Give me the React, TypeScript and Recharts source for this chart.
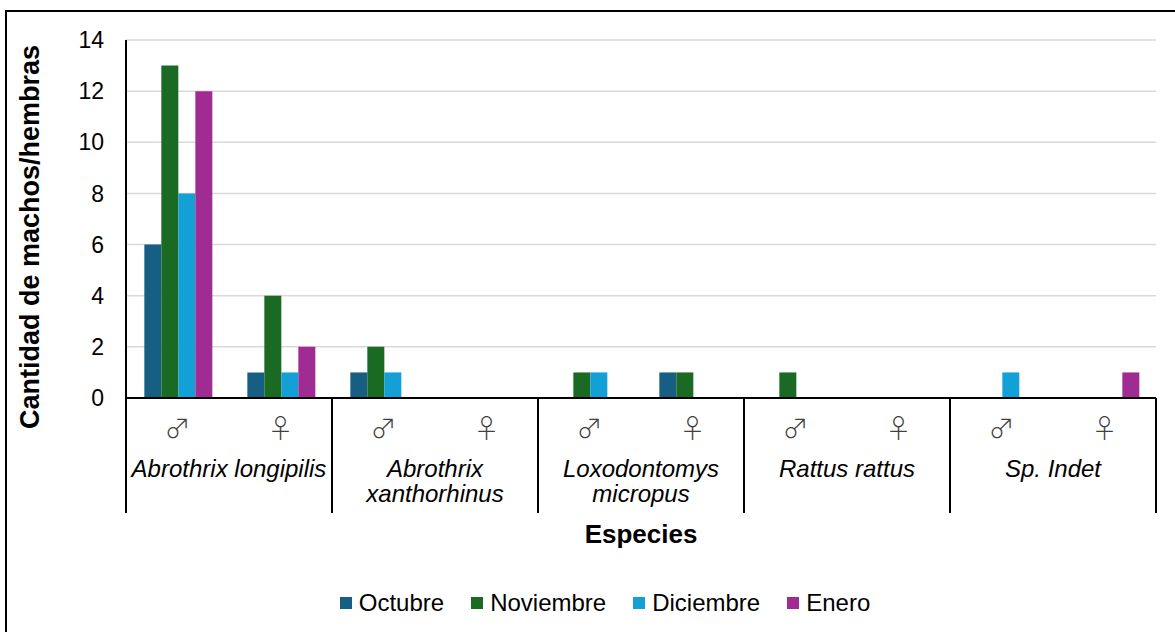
import { Bar, BarChart, CartesianGrid, Label, Legend, XAxis, YAxis } from "recharts";

const species = [
  ["Abrothrix longipilis"],
  ["Abrothrix", "xanthorhinus"],
  ["Loxodontomys", "micropus"],
  ["Rattus rattus"],
  ["Sp. Indet"],
];
const sexes = ["♂", "♀"];

// one value per bar position: species x sex (♂, ♀)
const octubre = [6, 1, 1, 0, 0, 1, 0, 0, 0, 0];
const noviembre = [13, 4, 2, 0, 1, 1, 1, 0, 0, 0];
const diciembre = [8, 1, 1, 0, 1, 0, 0, 0, 1, 0];
const enero = [12, 2, 0, 0, 0, 0, 0, 0, 0, 1];

const yTicks = [0, 2, 4, 6, 8, 10, 12, 14];

const series = [
  { key: "Octubre", values: octubre, color: "#175F82" },
  { key: "Noviembre", values: noviembre, color: "#1B6A24" },
  { key: "Diciembre", values: diciembre, color: "#12A0D7" },
  { key: "Enero", values: enero, color: "#A02C93" },
];

const data = species.flatMap((sp, i) =>
  sexes.map((sex, j) => {
    const idx = i * sexes.length + j;
    const row: Record<string, string | number> = { cat: `${sp.join(" ")} ${sex}` };
    series.forEach((s) => (row[s.key] = s.values[idx]));
    return row;
  })
);

const W = 1175;
const H = 632;
const font = "'Liberation Sans', Arial, sans-serif";
const margin = { top: 40, right: 19, left: 66, bottom: 14 };
const yAxisWidth = 60;
const legendHeight = 30;
const xAxisHeight = 190;
const bandWidth = (W - margin.left - margin.right - yAxisWidth) / data.length;

function CategoryTick(props: any) {
  const { x, y, index } = props;
  const sex = sexes[index % sexes.length];
  const groupStart = index % sexes.length === 0;
  const sp = species[Math.floor(index / sexes.length)];
  const isLast = index === data.length - 1;
  return (
    <g>
      <text
        x={x}
        y={y + 40}
        textAnchor="middle"
        fontSize={26}
        fill="#404040"
        fontFamily="'Noto Sans CJK JP', 'DejaVu Sans', sans-serif"
        fontWeight={300}
      >
        {sex}
      </text>
      {groupStart &&
        sp.map((line, k) => (
          <text
            key={k}
            x={x + bandWidth / 2}
            y={y + 79 + k * 25}
            textAnchor="middle"
            fontSize={24}
            fontStyle="italic"
            fill="#000"
            fontFamily={font}
          >
            {line}
          </text>
        ))}
      {groupStart && (
        <line x1={x - bandWidth / 2} x2={x - bandWidth / 2} y1={y} y2={y + 115} stroke="#000" strokeWidth={2} />
      )}
      {isLast && (
        <line x1={x + bandWidth / 2} x2={x + bandWidth / 2} y1={y} y2={y + 115} stroke="#000" strokeWidth={2} />
      )}
    </g>
  );
}

function LegendContent() {
  return (
    <div
      style={{
        display: "flex",
        justifyContent: "center",
        alignItems: "center",
        gap: 27,
        height: legendHeight,
        paddingLeft: 35,
        fontFamily: font,
        fontSize: 24,
        color: "#000",
      }}
    >
      {series.map((s) => (
        <div key={s.key} style={{ display: "flex", alignItems: "center" }}>
          <span style={{ width: 12, height: 12, background: s.color, marginRight: 7, display: "inline-block" }} />
          <span>{s.key}</span>
        </div>
      ))}
    </div>
  );
}

export default function App() {
  return (
    <div
      style={{
        position: "absolute",
        left: 0,
        top: 0,
        width: W,
        height: H,
        overflow: "hidden",
        background: "#fff",
      }}
    >
      <div style={{ position: "absolute", left: 0, top: 0 }}>
        <BarChart width={W} height={H} data={data} margin={margin} barCategoryGap="17.8%" barGap={0}>
          <CartesianGrid vertical={false} stroke="#d9d9d9" strokeWidth={1.5} />
          <XAxis
            dataKey="cat"
            interval={0}
            height={xAxisHeight}
            tickSize={0}
            tickMargin={0}
            tickLine={false}
            axisLine={{ stroke: "#000", strokeWidth: 2 }}
            tick={<CategoryTick />}
          >
            <Label
              content={() => (
                <text x={641} y={543} textAnchor="middle" fontSize={26} fontWeight="bold" fontFamily={font} fill="#000">
                  Especies
                </text>
              )}
            />
          </XAxis>
          <YAxis
            width={yAxisWidth}
            domain={[0, 14]}
            ticks={yTicks}
            tickSize={0}
            tickMargin={22}
            tickLine={false}
            axisLine={{ stroke: "#000", strokeWidth: 2 }}
            tick={{ fontSize: 23, fill: "#000", fontFamily: font }}
          >
            <Label
              content={() => (
                <text
                  x={30}
                  y={237}
                  transform="rotate(-90 30 237)"
                  textAnchor="middle"
                  dominantBaseline="central"
                  fontSize={27}
                  fontWeight="bold"
                  fontFamily={font}
                  fill="#000"
                >
                  Cantidad de machos/hembras
                </text>
              )}
            />
          </YAxis>
          <Legend
            verticalAlign="bottom"
            height={legendHeight}
            wrapperStyle={{ left: 0, width: W }}
            content={<LegendContent />}
          />
          {series.map((s) => (
            <Bar key={s.key} dataKey={s.key} fill={s.color} isAnimationActive={false} />
          ))}
        </BarChart>
      </div>
      <svg width={W} height={H} style={{ position: "absolute", left: 0, top: 0, pointerEvents: "none" }}>
        <line x1={6} x2={W} y1={11} y2={11} stroke="#000" strokeWidth={2} />
        <line x1={6} x2={6} y1={10} y2={H} stroke="#000" strokeWidth={2} />
      </svg>
    </div>
  );
}
